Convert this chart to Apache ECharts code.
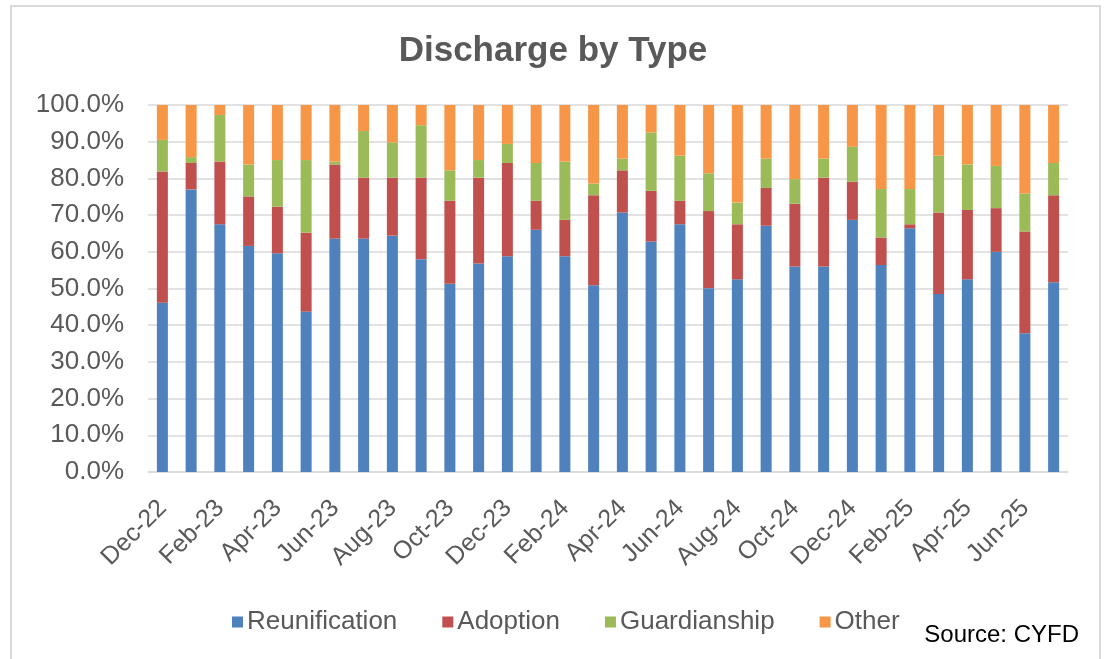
<!DOCTYPE html>
<html>
<head>
<meta charset="utf-8">
<script src="https://cdn.jsdelivr.net/npm/echarts@6/dist/echarts.min.js"></script>
<style>
  html, body { margin: 0; padding: 0; background: #fff; }
  .frame {
    position: absolute; left: 10px; top: 5px; width: 1091px; height: 660px;
    border: 2px solid #d9d9d9; border-bottom: none; box-sizing: border-box;
  }
  #chart { position: absolute; left: 0; top: 0; width: 1106px; height: 659px; }
</style>
</head>
<body>
<div class="frame"></div>
<div id="chart"></div>
<script>
// months Dec-22 .. Jul-25
const months = [
  'Dec-22', 'Jan-23', 'Feb-23', 'Mar-23', 'Apr-23', 'May-23', 'Jun-23', 'Jul-23',
  'Aug-23', 'Sep-23', 'Oct-23', 'Nov-23', 'Dec-23', 'Jan-24', 'Feb-24', 'Mar-24',
  'Apr-24', 'May-24', 'Jun-24', 'Jul-24', 'Aug-24', 'Sep-24', 'Oct-24', 'Nov-24',
  'Dec-24', 'Jan-25', 'Feb-25', 'Mar-25', 'Apr-25', 'May-25', 'Jun-25', 'Jul-25'
]

// shares in percent
const reunification = [46.1, 77.0, 67.5, 61.6, 59.6, 43.7, 63.6, 63.6, 64.4, 58.0, 51.3, 56.8, 58.8, 66.0, 58.8, 50.9,
  70.7, 62.8, 67.5, 50.1, 52.5, 67.1, 56.0, 56.0, 68.7, 56.4, 66.4, 48.5, 52.5, 60.0, 37.8, 51.7]
const adoption = [35.8, 7.2, 17.1, 13.5, 12.7, 21.5, 20.2, 16.6, 15.8, 22.2, 22.6, 23.4, 25.4, 7.9, 9.9, 24.5,
  11.5, 13.8, 6.4, 21.0, 15.0, 10.3, 17.1, 24.2, 10.4, 7.5, 1.1, 22.2, 18.9, 11.9, 27.7, 23.7]
const guardianship = [8.6, 1.6, 12.7, 8.7, 12.7, 19.8, 0.8, 12.7, 9.6, 14.3, 8.3, 4.8, 5.2, 10.3, 15.9, 3.2,
  3.2, 15.9, 12.3, 10.3, 5.9, 8.0, 6.7, 5.2, 9.5, 13.2, 9.6, 15.5, 12.4, 11.5, 10.4, 8.8]
const other = [9.5, 14.2, 2.7, 16.2, 15.0, 15.0, 15.4, 7.1, 10.2, 5.5, 17.8, 15.0, 10.6, 15.8, 15.4, 21.4,
  14.6, 7.5, 13.8, 18.6, 26.6, 14.6, 20.2, 14.6, 11.4, 22.9, 22.9, 13.8, 16.2, 16.6, 24.1, 15.8]

const seriesNames = ['Reunification', 'Adoption', 'Guardianship', 'Other']
const seriesData = [reunification, adoption, guardianship, other]
const colors = ['#4f81bd', '#c0504d', '#9bbb59', '#f79646']

const fontFamily = '"Liberation Sans", Arial, sans-serif'
const myChart = echarts.init(document.getElementById('chart'))

const option = {
  animation: false,
  color: colors,
  textStyle: { fontFamily: fontFamily },
  title: {
    text: 'Discharge by Type',
    left: 'center',
    top: 29,
    textStyle: { fontSize: 35, fontWeight: 'bold', color: '#595959', fontFamily: fontFamily }
  },
  legend: {
    top: 604,
    left: 227,
    icon: 'rect',
    itemWidth: 11,
    itemHeight: 11,
    itemGap: 45,
    textStyle: { fontSize: 26, color: '#595959', padding: [0, 0, 0, -1] },
    data: seriesNames
  },
  graphic: [{
    type: 'text',
    right: 27,
    top: 623,
    style: { text: 'Source: CYFD', fontSize: 24, fill: '#000', fontFamily: fontFamily }
  }],
  grid: { left: 148, right: 38, top: 105, bottom: 187 },
  xAxis: {
    type: 'category',
    data: months,
    axisLine: { lineStyle: { color: '#d9d9d9', width: 1.5 } },
    axisTick: { interval: 1, length: 6, lineStyle: { color: '#d9d9d9', width: 1.5 } },
    axisLabel: {
      interval: 1, rotate: 45, fontSize: 25, color: '#595959',
      margin: 15, verticalAlign: 'top', padding: [0, 12, 0, 0]
    }
  },
  yAxis: {
    type: 'value',
    min: 0,
    max: 100,
    interval: 10,
    axisLine: { show: false },
    axisTick: { show: false },
    splitLine: { lineStyle: { color: '#d9d9d9', width: 1.5 } },
    axisLabel: { fontSize: 26, color: '#595959', margin: 24, formatter: v => v.toFixed(1) + '%' }
  },
  series: seriesNames.map((name, i) => ({
    name: name,
    type: 'bar',
    stack: 'total',
    barWidth: 11,
    data: seriesData[i]
  }))
}
myChart.setOption(option)
</script>
</body>
</html>
